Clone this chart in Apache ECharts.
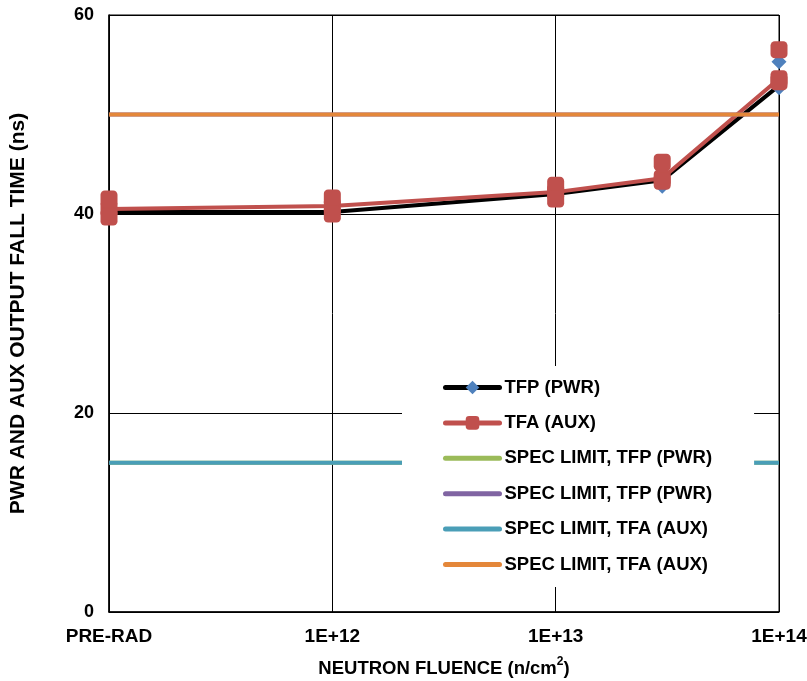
<!DOCTYPE html>
<html><head><meta charset="utf-8">
<script src="https://cdn.jsdelivr.net/npm/echarts@6/dist/echarts.min.js"></script>
<style>html,body{margin:0;padding:0;background:#fff}#c{width:807px;height:681px}</style>
</head><body><div id="c"></div>
<script>
// X positions (neutron fluence, n/cm^2); PRE-RAD plotted at 1E+11
const fluence = [1e11, 1e12, 1e13, 3e13, 1e14];
const tickValues = [1e11, 1e12, 1e13, 1e14];
const tickLabels = ['PRE-RAD', '1E+12', '1E+13', '1E+14'];

// TFP (PWR) fall time (ns), per unit
const tfpUnit1 = [40.2, 40.2, 42.0, 43.4, 52.9];
const tfpUnit2 = [40.0, 40.0, 41.8, 42.8, 52.7];
const tfpUnit3 = [40.4, 40.4, 42.2, 43.6, 55.3];

// TFA (AUX) fall time (ns), per unit
const tfaUnit1 = [40.5, 40.8, 42.2, 43.6, 53.6];
const tfaUnit2 = [41.5, 41.6, 42.9, 45.2, 56.5];
const tfaUnit3 = [39.7, 40.0, 41.5, 43.3, 53.3];

// Spec limits (ns)
const specTfpLow = 15, specTfpHigh = 50, specTfaLow = 15, specTfaHigh = 50;

const SANS = "'Liberation Sans',Arial,sans-serif";

const pts = arr => arr.map((v, i) => [fluence[i], v]);
const specLine = v => [[tickValues[0], v], [tickValues[tickValues.length - 1], v]];

const chart = echarts.init(document.getElementById('c'), null, {renderer: 'canvas'});
chart.setOption({
  animation: false,
  backgroundColor: '#fff',
  grid: {left: 109, right: 28, top: 15, bottom: 69, show: true, borderColor: '#000', borderWidth: 1,
         containLabel: false, outerBoundsMode: 'none'},
  xAxis: {
    type: 'log', logBase: 10, min: 1e11, max: 1e14,
    name: '{a|NEUTRON FLUENCE (n/cm}{s|2}{a|)}', nameLocation: 'middle', nameGap: 44,
    nameTextStyle: {rich: {
      a: {fontFamily: SANS, fontWeight: 'bold', fontSize: 18.5, color: '#000', verticalAlign: 'bottom', lineHeight: 22},
      s: {fontFamily: SANS, fontWeight: 'bold', fontSize: 12, color: '#000', verticalAlign: 'top', lineHeight: 22, padding: [0, 0, 9, 0]}
    }},
    axisLine: {show: true, lineStyle: {color: '#000', width: 1.5}},
    axisTick: {show: false},
    splitLine: {show: true, lineStyle: {color: '#000', width: 1}},
    minorTick: {show: false}, minorSplitLine: {show: false},
    axisLabel: {
      margin: 15, fontFamily: SANS, fontWeight: 'bold', fontSize: 19, color: '#000', hideOverlap: false,
      formatter: v => {
        const i = tickValues.findIndex(t => Math.abs(Math.log10(t) - Math.log10(v)) < 1e-6);
        return i >= 0 ? tickLabels[i] : '';
      }
    }
  },
  yAxis: {
    type: 'value', min: 0, max: 60, interval: 20,
    name: 'PWR AND AUX OUTPUT FALL TIME (ns)', nameLocation: 'middle', nameGap: 80,
    nameTextStyle: {fontFamily: SANS, fontWeight: 'bold', fontSize: 21, color: '#000'},
    axisLine: {show: true, lineStyle: {color: '#000', width: 1.5}},
    axisTick: {show: false},
    splitLine: {show: true, lineStyle: {color: '#000', width: 1}},
    axisLabel: {margin: 15, fontFamily: SANS, fontWeight: 'bold', fontSize: 18, color: '#000'}
  },
  legend: {
    orient: 'vertical', left: 402, top: 366, z: 20, zlevel: 0,
    backgroundColor: '#fff', padding: [12, 42, 13, 41],
    itemWidth: 54, itemHeight: 17, itemGap: 16.4,
    lineStyle: {width: 5, cap: 'round'},
    textStyle: {fontFamily: SANS, fontWeight: 'bold', fontSize: 18.5, color: '#000', lineHeight: 17},
    data: [
      {name: 'TFP (PWR)'},
      {name: 'TFA (AUX)'},
      {name: 'SPEC LIMIT, TFP (PWR) ', itemStyle: {opacity: 0}},
      {name: 'SPEC LIMIT, TFP (PWR)', itemStyle: {opacity: 0}},
      {name: 'SPEC LIMIT, TFA (AUX) ', itemStyle: {opacity: 0}},
      {name: 'SPEC LIMIT, TFA (AUX)', itemStyle: {opacity: 0}}
    ],
    formatter: n => n.trim()
  },
  series: [
    {name: 'TFP (PWR)', type: 'line', data: pts(tfpUnit1), z: 2,
     lineStyle: {color: '#000', width: 4}, itemStyle: {color: '#4F81BD'},
     symbol: 'diamond', symbolSize: 15, showSymbol: true},
    {name: 'TFP (PWR)', type: 'scatter', data: pts(tfpUnit2).concat(pts(tfpUnit3)), z: 2,
     itemStyle: {color: '#4F81BD', opacity: 1}, symbol: 'diamond', symbolSize: 15},
    {name: 'TFA (AUX)', type: 'line', data: pts(tfaUnit1), z: 3,
     lineStyle: {color: '#C0504D', width: 4}, itemStyle: {color: '#C0504D'},
     symbol: 'roundRect', symbolSize: 17, showSymbol: true},
    {name: 'TFA (AUX)', type: 'scatter', data: pts(tfaUnit2).concat(pts(tfaUnit3)), z: 3,
     itemStyle: {color: '#C0504D', opacity: 1}, symbol: 'roundRect', symbolSize: 17},
    {name: 'SPEC LIMIT, TFP (PWR) ', type: 'line', data: specLine(specTfpLow), symbol: 'none', z: 4,
     lineStyle: {color: '#9BBB59', width: 4}, itemStyle: {color: '#9BBB59'}},
    {name: 'SPEC LIMIT, TFP (PWR)', type: 'line', data: specLine(specTfpHigh), symbol: 'none', z: 4,
     lineStyle: {color: '#8064A2', width: 4}, itemStyle: {color: '#8064A2'}},
    {name: 'SPEC LIMIT, TFA (AUX) ', type: 'line', data: specLine(specTfaLow), symbol: 'none', z: 5,
     lineStyle: {color: '#4A9EB7', width: 4}, itemStyle: {color: '#4A9EB7'}},
    {name: 'SPEC LIMIT, TFA (AUX)', type: 'line', data: specLine(specTfaHigh), symbol: 'none', z: 5,
     lineStyle: {color: '#E4873A', width: 4}, itemStyle: {color: '#E4873A'}}
  ]
});
</script>
</body></html>
